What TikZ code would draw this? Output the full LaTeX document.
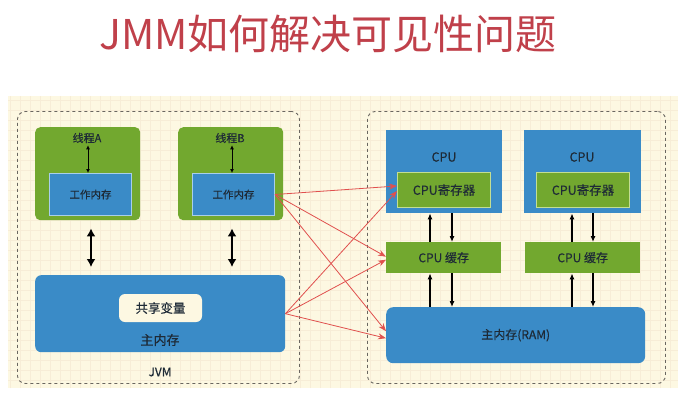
\documentclass[tikz,border=0pt]{standalone}
\usepackage{fontspec}
\setmainfont{Noto Sans CJK SC}
\newfontfamily\lblfont[FakeBold=0.35]{Noto Sans CJK SC}
\usetikzlibrary{arrows.meta}
\definecolor{cream}{HTML}{FDF8E2}
\definecolor{gridc}{HTML}{F7EDD7}
\definecolor{jgreen}{HTML}{72A82F}
\definecolor{jblue}{HTML}{3A8BC7}
\definecolor{lblue}{HTML}{A9CFEA}
\definecolor{lgreen}{HTML}{C3DE93}
\definecolor{ttl}{HTML}{C0404A}
\definecolor{txt}{HTML}{1E2A36}
\definecolor{redar}{HTML}{E0504E}
\definecolor{dash}{HTML}{6A6660}
\tikzset{
  greenbox/.style={fill=jgreen, draw=none, rounded corners=5pt, anchor=north west, inner sep=0pt},
  bluebox/.style={fill=jblue, draw=none, anchor=north west, inner sep=0pt},
  workbox/.style={fill=jblue, draw=lblue, line width=1pt, anchor=north west, inner sep=0pt, font=\lblfont\fontsize{10.5}{12}\selectfont, text=txt},
  regbox/.style={fill=jgreen, draw=lgreen, line width=1pt, anchor=north west, inner sep=0pt, font=\lblfont\fontsize{12.5}{14}\selectfont, text=txt},
  cachebox/.style={fill=jgreen, draw=none, anchor=north west, inner sep=0pt, font=\lblfont\fontsize{12}{14}\selectfont, text=txt},
  lbl/.style={text=txt, inner sep=0pt},
  dashbox/.style={draw=dash, dashed, line width=0.9pt, rounded corners=8pt, anchor=north west, inner sep=0pt},
  bigarrow/.style={black, line width=2.2pt, {Latex[length=8pt,width=9pt]}-{Latex[length=8pt,width=9pt]}},
  thinarrow/.style={black, line width=0.9pt, {Latex[length=4pt,width=4pt]}-{Latex[length=4pt,width=4pt]}},
  cpuarrow/.style={black, line width=1.1pt, -{Latex[length=6pt,width=5pt]}},
  redarrow/.style={redar, line width=0.8pt, -{Stealth[length=8pt,width=6pt]}}
}
\begin{document}
\begin{tikzpicture}[x=1pt,y=-1pt]
\useasboundingbox (0,0) rectangle (698,407);
\fill[white] (0,0) rectangle (698,407);
% background
\fill[cream] (8,96) rectangle (678,388);
\begin{scope}
\clip (8,96) rectangle (678,388);
\draw[gridc, line width=0.4pt, step=10pt] (8,96) grid (678,388);
\end{scope}
% title
\node[text=ttl, font=\fontsize{41}{45}\selectfont] (title) at (328,34) {JMM如何解决可见性问题};
% dashed containers
\node[dashbox, minimum width=282pt, minimum height=272pt] (jvm) at (17,111) {};
\node[dashbox, minimum width=298pt, minimum height=272pt] (hw) at (367,111) {};
% thread A
\node[greenbox, minimum width=105pt, minimum height=93pt] (ta) at (35,127) {};
\node[lbl, font=\lblfont\fontsize{11}{13}\selectfont] (tal) at (87,138) {线程A};
\node[workbox, minimum width=82pt, minimum height=42pt] (wa) at (49,173) {工作内存};
% thread B
\node[greenbox, minimum width=105pt, minimum height=93pt] (tb) at (178,127) {};
\node[lbl, font=\lblfont\fontsize{11}{13}\selectfont] (tbl) at (230,138) {线程B};
\node[workbox, minimum width=82pt, minimum height=42pt] (wb) at (192,173) {工作内存};
% thread internal arrows
\draw[thinarrow] ([yshift=-2pt]tal.south -| 88,0) -- (wa.north -| 88,0);
\draw[thinarrow] ([yshift=-2pt]tbl.south -| 232,0) -- (wb.north -| 232,0);
% main memory
\node[bluebox, rounded corners=6pt, minimum width=250pt, minimum height=77pt] (mm) at (35,275) {};
\node[fill=cream, rounded corners=6pt, minimum width=83pt, minimum height=28pt, inner sep=0pt, text=txt, font=\lblfont\fontsize{12.5}{14}\selectfont] (sv) at (160.5,308) {共享变量};
\node[lbl, font=\lblfont\fontsize{13}{15}\selectfont] (mml) at (160,340) {主内存};
\node[lbl, font=\lblfont\fontsize{12}{14}\selectfont] (jvml) at (160,372) {JVM};
% big arrows
\draw[bigarrow] ([yshift=-8pt]ta.south -| 91,0) -- ([yshift=8pt]mm.north -| 91,0);
\draw[bigarrow] ([yshift=-8pt]tb.south -| 232,0) -- ([yshift=8pt]mm.north -| 232,0);
% CPUs
\node[bluebox, minimum width=116pt, minimum height=83pt] (c1) at (386,130) {};
\node[lbl, font=\lblfont\fontsize{12.5}{14}\selectfont] (c1l) at (444,157) {CPU};
\node[regbox, minimum width=93pt, minimum height=35pt] (r1) at (397,172) {CPU寄存器};
\node[bluebox, minimum width=117pt, minimum height=83pt] (c2) at (524,130) {};
\node[lbl, font=\lblfont\fontsize{12.5}{14}\selectfont] (c2l) at (582,157) {CPU};
\node[regbox, minimum width=93pt, minimum height=35pt] (r2) at (536,172) {CPU寄存器};
% caches
\node[cachebox, minimum width=115pt, minimum height=31pt] (k1) at (386,242) {CPU 缓存};
\node[cachebox, minimum width=115pt, minimum height=31pt] (k2) at (525,242) {CPU 缓存};
% RAM
\node[bluebox, rounded corners=7pt, minimum width=259pt, minimum height=56pt, font=\lblfont\fontsize{12}{14}\selectfont, text=txt] (ram) at (386,307) {主内存(RAM)};
% cpu arrows
\draw[cpuarrow] (k1.north -| 430,0) -- (c1.south -| 430,0);
\draw[cpuarrow] (c1.south -| 452,0) -- (k1.north -| 452,0);
\draw[cpuarrow] (ram.north -| 430,0) -- (k1.south -| 430,0);
\draw[cpuarrow] (k1.south -| 452,0) -- (ram.north -| 452,0);
\draw[cpuarrow] (k2.north -| 572,0) -- (c2.south -| 572,0);
\draw[cpuarrow] (c2.south -| 593,0) -- (k2.north -| 593,0);
\draw[cpuarrow] (ram.north -| 572,0) -- (k2.south -| 572,0);
\draw[cpuarrow] (k2.south -| 593,0) -- (ram.north -| 593,0);
% red arrows
\draw[redarrow] (wb.east) -- ([yshift=4pt]r1.west);
\draw[redarrow] (wb.east) -- ([yshift=1pt]k1.west);
\draw[redarrow] (wb.east) -- ([yshift=4pt]ram.west);
\draw[redarrow] (mm.east) -- ([yshift=-1pt]r1.west);
\draw[redarrow] (mm.east) -- ([yshift=-2pt]k1.west);
\draw[redarrow] (mm.east) -- ([yshift=-3pt]ram.west);
\end{tikzpicture}
\end{document}
